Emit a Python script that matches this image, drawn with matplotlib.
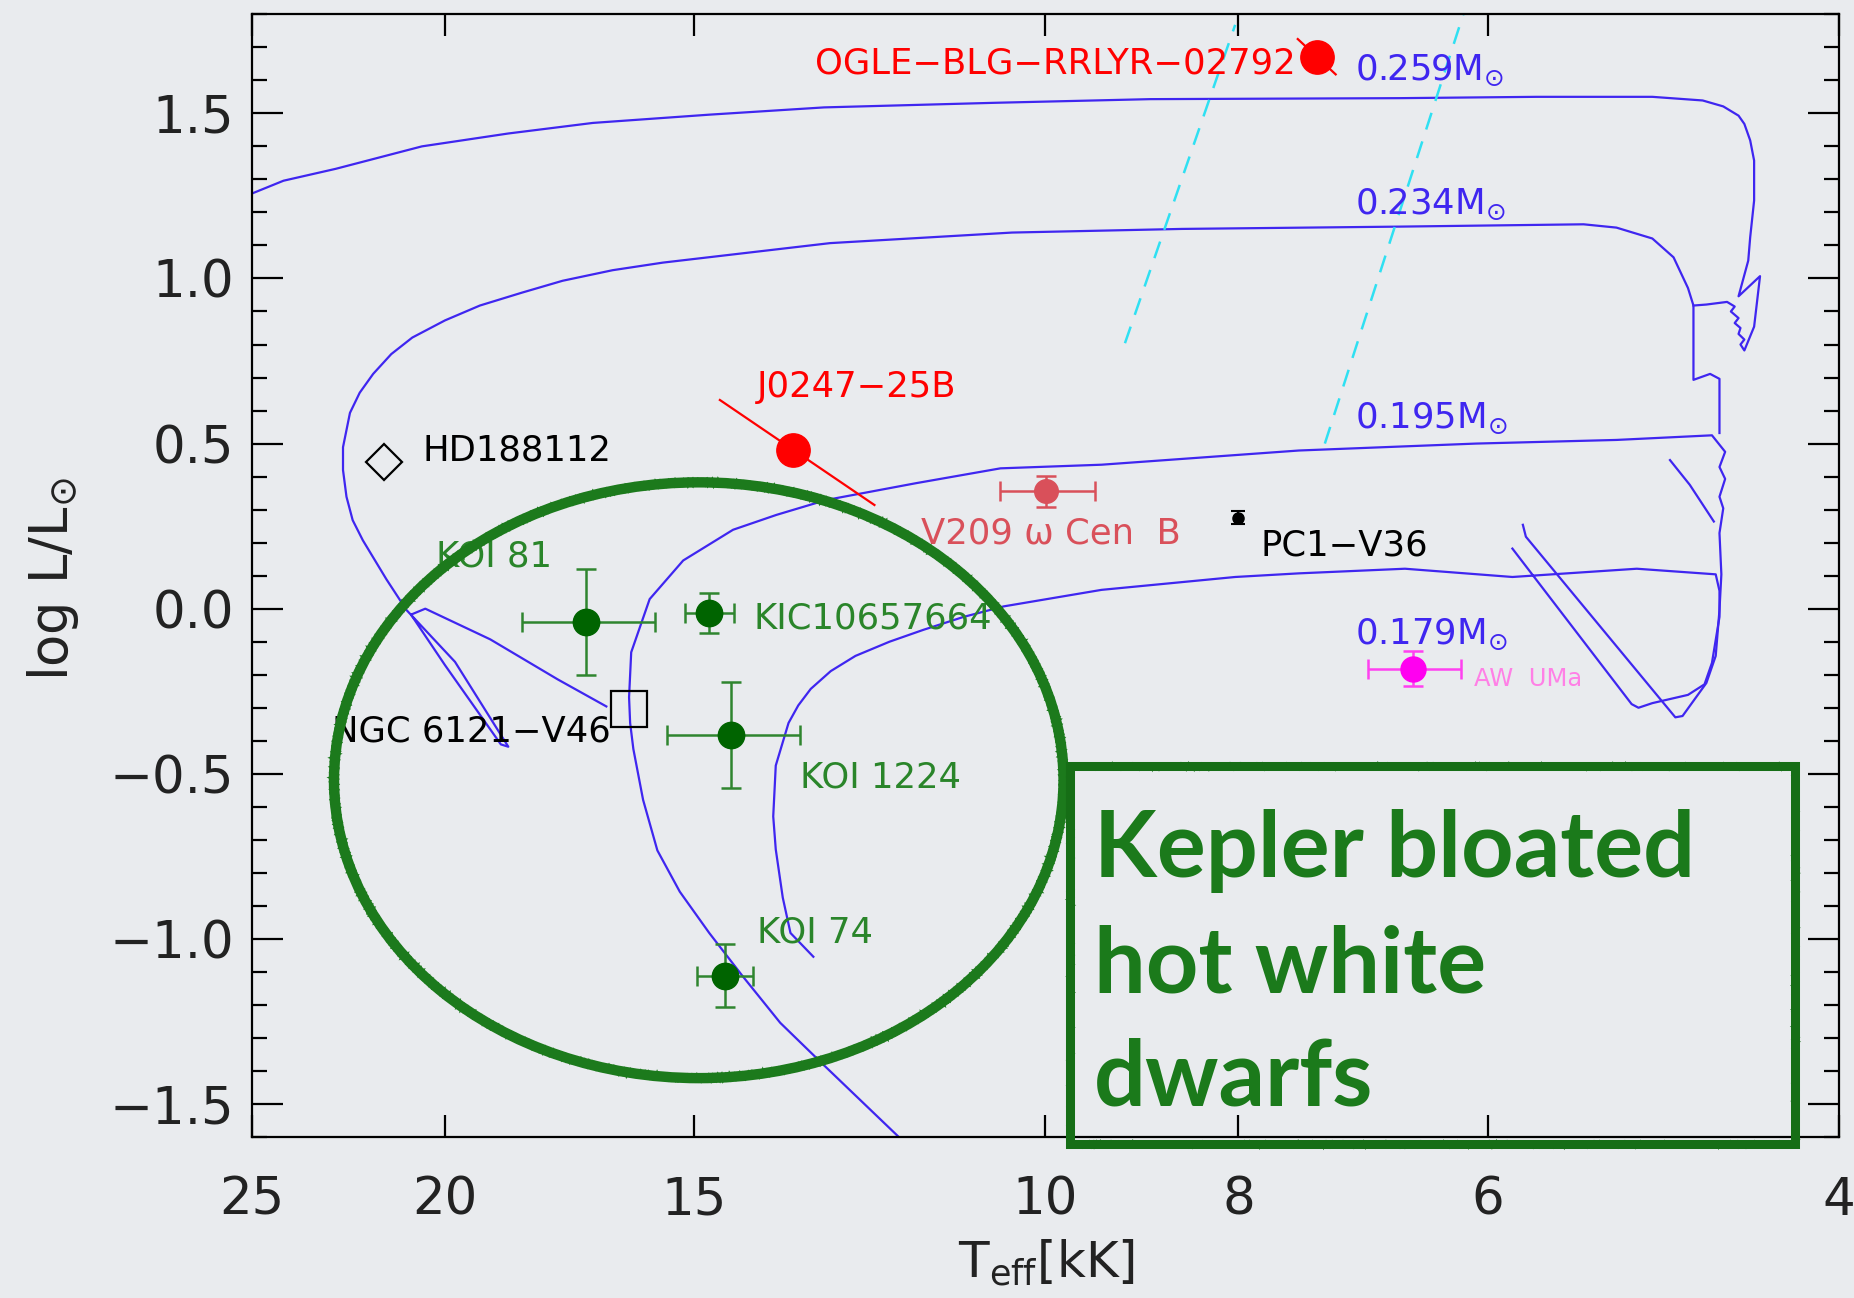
import numpy as np
import matplotlib
matplotlib.use('Agg')
import matplotlib.pyplot as plt
from matplotlib.patches import Ellipse, Rectangle
from matplotlib.ticker import MultipleLocator, NullLocator

plt.rcParams['font.family'] = ['DejaVu Sans']
plt.rcParams['mathtext.fontset'] = 'dejavusans'

BG = '#e9ebee'
BLUE = '#3f26f0'

# --- ELM proto-WD tracks: Teff [kK], log L/Lsun ---
trk259_T = [25.0, 24.10, 22.69, 20.54, 18.59, 16.86, 14.74, 12.91, 10.59, 8.86, 6.64, 5.67, 4.96,
            4.68, 4.57, 4.49, 4.46, 4.43, 4.41, 4.41, 4.43, 4.44, 4.49, 4.38, 4.41, 4.46,
            4.48, 4.46, 4.49, 4.48, 4.51, 4.49, 4.53, 4.51, 4.55, 4.66, 4.73]
trk259_L = [1.257, 1.296, 1.332, 1.400, 1.439, 1.471, 1.496, 1.518, 1.532, 1.543, 1.546, 1.550, 1.550,
            1.539, 1.521, 1.493, 1.468, 1.418, 1.357, 1.236, 1.125, 1.054, 0.946, 1.007, 0.854, 0.782,
            0.800, 0.815, 0.832, 0.850, 0.865, 0.880, 0.900, 0.915, 0.929, 0.921, 0.918]

trk234_T = [4.59, 4.59, 4.64, 4.73, 4.73, 4.76, 4.84, 4.96, 5.17, 5.37, 6.64, 8.54, 10.39, 12.82,
            15.55, 16.48, 17.46, 18.30, 19.21, 20.0, 20.77, 21.28, 21.73, 22.07, 22.32, 22.50, 22.50,
            22.41, 22.25, 21.99, 21.40, 20.91,
            19.77, 18.59, 18.75, 20.0, 20.80, 20.46, 18.98, 17.56, 16.60]
trk234_L = [0.532, 0.696, 0.711, 0.693, 0.918, 0.971, 1.064, 1.121, 1.154, 1.164, 1.157, 1.150, 1.139, 1.107,
            1.048, 1.025, 0.993, 0.957, 0.918, 0.873, 0.821, 0.771, 0.711, 0.654, 0.593, 0.489, 0.420,
            0.339, 0.268, 0.207, 0.089, -0.004,
            -0.161, -0.418, -0.411, -0.171, -0.018, 0.0, -0.093, -0.214, -0.296]

trk195_T = [5.76, 5.74, 4.83, 4.79, 4.66, 4.61, 4.59, 4.58, 4.59, 4.57, 4.59, 4.56, 4.59, 4.56, 4.63,
            5.17, 6.08, 7.46, 9.37, 10.53, 11.61, 12.88, 13.64, 14.34, 15.19, 15.79, 16.13,
            16.17, 16.15, 16.09, 15.91, 15.65, 15.25, 14.74, 14.19, 13.58, 12.95, 11.86, 11.61]
trk195_L = [0.254, 0.218, -0.329, -0.325, -0.225, -0.143, -0.004, 0.104, 0.229, 0.304, 0.339, 0.393, 0.429,
            0.475, 0.525, 0.511, 0.500, 0.479, 0.436, 0.425, 0.380, 0.329, 0.284, 0.239, 0.146, 0.029,
            -0.132, -0.268, -0.346, -0.425, -0.579, -0.732, -0.857, -0.982, -1.111,
            -1.254, -1.375, -1.596, -1.654]
hook195_T = [4.86, 4.75, 4.62]
hook195_L = [0.450, 0.375, 0.264]

trk179_T = [5.83, 5.08, 5.04, 4.96, 4.76, 4.67, 4.63, 4.59, 4.59, 4.61, 5.05, 5.83, 6.60, 7.46, 8.03,
            9.37, 10.49, 10.99, 11.51, 11.97, 12.45, 12.81, 13.11, 13.30, 13.45, 13.65, 13.69, 13.65,
            13.54, 13.42, 13.07]
trk179_L = [0.182, -0.289, -0.300, -0.286, -0.261, -0.229, -0.164, -0.025, 0.054, 0.104, 0.121, 0.096,
            0.121, 0.107, 0.096, 0.057, 0.007, -0.025, -0.064, -0.100, -0.143, -0.189, -0.243, -0.293,
            -0.346, -0.475, -0.629, -0.729, -0.875, -0.982, -1.054]

mass_labels = ['0.259', '0.234', '0.195', '0.179']

# instability strip edges
strip_blue_T = [9.12, 8.03]
strip_blue_L = [0.804, 1.768]
strip_red_T = [7.24, 6.17]
strip_red_L = [0.500, 1.800]

# --- objects ---
kepler_names = ['KOI 81', 'KIC10657664', 'KOI 1224', 'KOI 74']
kepler_T = [16.99, 14.74, 14.38, 14.48]
kepler_L = [-0.040, -0.014, -0.382, -1.111]
kepler_Terr = [1.3, 0.42, 1.1, 0.47]
kepler_Lerr = [0.16, 0.06, 0.16, 0.095]

red_names = ['OGLE\u2212BLG\u2212RRLYR\u221202792', 'J0247\u221225B']
red_T = [7.31, 13.38]
red_L = [1.671, 0.482]
ogle_line_T = [7.47, 7.15]
ogle_line_L = [1.725, 1.618]
j0247_line_T = [14.56, 12.18]
j0247_line_L = [0.632, 0.314]

v209_T, v209_L, v209_Terr, v209_Lerr = 9.99, 0.355, 0.55, 0.046
pc1_T, pc1_L, pc1_Lerr = 8.0, 0.275, 0.02
aw_T, aw_L, aw_Terr, aw_Lerr = 6.54, -0.182, 0.35, 0.053
hd_T, hd_L = 21.46, 0.445
ngc_T, ngc_L = 16.17, -0.304

fig = plt.figure(figsize=(18.54, 12.98), dpi=100, facecolor=BG)
ax = fig.add_axes([0.1358, 0.124, 0.8559, 0.865])
ax.set_facecolor(BG)

for T, L in [(trk259_T, trk259_L), (trk234_T, trk234_L), (trk195_T, trk195_L),
             (hook195_T, hook195_L), (trk179_T, trk179_L)]:
    ax.plot(T, L, color=BLUE, lw=1.6, zorder=2)

ax.plot(strip_blue_T, strip_blue_L, color='#2fe0f2', lw=1.8, ls=(0, (7, 5)), zorder=2)
ax.plot(strip_red_T, strip_red_L, color='#2fe0f2', lw=1.8, ls=(0, (7, 5)), zorder=2)

LBL = 25.5
# mass labels sit just above each track's giant branch
for m, (T, L) in zip(mass_labels, [(6.99, 1.60), (6.99, 1.196), (6.99, 0.546), (6.99, -0.107)]):
    ax.text(T, L, m + r'M$_{\odot}$', color=BLUE, fontsize=LBL, va='baseline', ha='left')

# Kepler objects
ax.errorbar(kepler_T, kepler_L, xerr=kepler_Terr, yerr=kepler_Lerr, fmt='o', color='#006400',
            ecolor='#2f852f', elinewidth=1.8, capsize=7, capthick=1.8, markersize=19, zorder=4)
kepler_offsets = [(-108, 47), (32, -4), (50, -31), (23, 31)]
for name, T, L, off in zip(kepler_names, kepler_T, kepler_L, kepler_offsets):
    ax.annotate(name, (T, L), xytext=off, textcoords='offset points', color='#2a852a',
                fontsize=LBL, ha='left', va='center')

# red objects with correlated error lines
ax.plot(ogle_line_T, ogle_line_L, color='red', lw=1.6, zorder=3)
ax.plot(j0247_line_T, j0247_line_L, color='red', lw=1.6, zorder=3)
ax.plot(red_T, red_L, 'o', color='red', markersize=24, zorder=4)
ax.annotate(red_names[0], (red_T[0], red_L[0]), xytext=(-15, -5), textcoords='offset points',
            color='red', fontsize=LBL, ha='right', va='center')
ax.annotate(red_names[1], (red_T[1], red_L[1]), xytext=(-26, 45), textcoords='offset points',
            color='red', fontsize=LBL, ha='left', va='center')

ax.errorbar([v209_T], [v209_L], xerr=[v209_Terr], yerr=[v209_Lerr], fmt='o', color='#d9505a',
            elinewidth=1.8, capsize=7, capthick=1.8, markersize=17, zorder=4)
ax.annotate('V209 \u03c9 Cen  B', (v209_T, v209_L), xytext=(-90, -30), textcoords='offset points',
            color='#d9505a', fontsize=LBL, ha='left', va='center')

ax.errorbar([pc1_T], [pc1_L], yerr=[pc1_Lerr], fmt='o', color='black', elinewidth=1.5,
            capsize=5, capthick=1.5, markersize=8, zorder=4)
ax.annotate('PC1\u2212V36', (pc1_T, pc1_L), xytext=(16, -20), textcoords='offset points',
            color='black', fontsize=LBL, ha='left', va='center')

ax.errorbar([aw_T], [aw_L], xerr=[aw_Terr], yerr=[aw_Lerr], fmt='o', color='#ff00f0',
            ecolor='#ff40f0', elinewidth=1.8, capsize=7, capthick=1.8, markersize=18, zorder=4)
ax.annotate('AW  UMa', (aw_T, aw_L), xytext=(44, -7), textcoords='offset points',
            color='#ff80e6', fontsize=17.5, ha='left', va='center')

ax.plot([hd_T], [hd_L], 'D', mfc='none', mec='black', mew=1.6, markersize=18, zorder=4)
ax.annotate('HD188112', (hd_T, hd_L), xytext=(28, 8), textcoords='offset points',
            color='black', fontsize=LBL, ha='left', va='center')
ax.plot([ngc_T], [ngc_L], 's', mfc='none', mec='black', mew=1.6, markersize=26, zorder=4)
ax.annotate('NGC 6121\u2212V46', (ngc_T, ngc_L), xytext=(-13, -16), textcoords='offset points',
            color='black', fontsize=LBL, ha='right', va='center')

# axes
ax.set_xscale('log')
ax.set_xlim(25, 4)
ax.set_ylim(-1.6, 1.8)
xt = [25, 20, 15, 10, 8, 6, 4]
ax.set_xticks(xt)
ax.set_xticklabels([str(v) for v in xt])
ax.xaxis.set_minor_locator(NullLocator())
yt = [-1.5, -1.0, -0.5, 0.0, 0.5, 1.0, 1.5]
ax.set_yticks(yt)
ax.set_yticklabels([f'{v:.1f}'.replace('-', '\u2212') for v in yt])
ax.yaxis.set_minor_locator(MultipleLocator(0.1))
ax.tick_params(which='both', direction='in', top=True, right=True, width=1.6, labelsize=37,
               labelcolor='#222222')
ax.tick_params(axis='x', which='major', length=16, pad=28)
ax.tick_params(axis='y', which='major', length=22, pad=13)
ax.tick_params(axis='y', which='minor', length=11)
for sp in ax.spines.values():
    sp.set_linewidth(1.6)

fig.text(0.0287, 0.5537, r'log L/L$_{\odot}$', rotation=90, fontsize=38, ha='center', va='center',
         color='#222222')
fig.text(0.5644, 0.027, r'T$_{\rm eff}$[kK]', fontsize=36, ha='center', va='center', color='#222222')

# hand-drawn highlight
GREEN = '#1c7a1c'
ell = Ellipse((0.3769, 0.3989), 0.3935, 0.459, transform=fig.transFigure, fill=False,
              ec=GREEN, lw=7.5, zorder=5)
fig.add_artist(ell)
for d in (-0.002, 0.002):
    e2 = Ellipse((0.3769, 0.3989), 0.3935 + d, 0.459 + d, transform=fig.transFigure, fill=False,
                 ec=GREEN, lw=2, zorder=5)
    e2.set_sketch_params(2, 5, 2)
    fig.add_artist(e2)

rect = Rectangle((0.5772, 0.1184), 0.3909, 0.2914, transform=fig.transFigure, fill=False,
                 ec='#166e16', lw=6.5, joinstyle='miter', zorder=5)
fig.add_artist(rect)
r2 = Rectangle((0.5772, 0.1184), 0.3909, 0.2914, transform=fig.transFigure, fill=False,
               ec='#166e16', lw=2, zorder=5)
r2.set_sketch_params(2, 5, 2)
fig.add_artist(r2)

for txt, y in [('Kepler bloated', 0.3242), ('hot white', 0.2350), ('dwarfs', 0.1480)]:
    fig.text(0.5899, y, txt, fontsize=66, fontweight='bold', color='#1b7a1b',
             family=['Lato', 'DejaVu Sans'], ha='left', va='baseline', zorder=6)

fig.savefig('out.png', dpi=100, facecolor=BG)
